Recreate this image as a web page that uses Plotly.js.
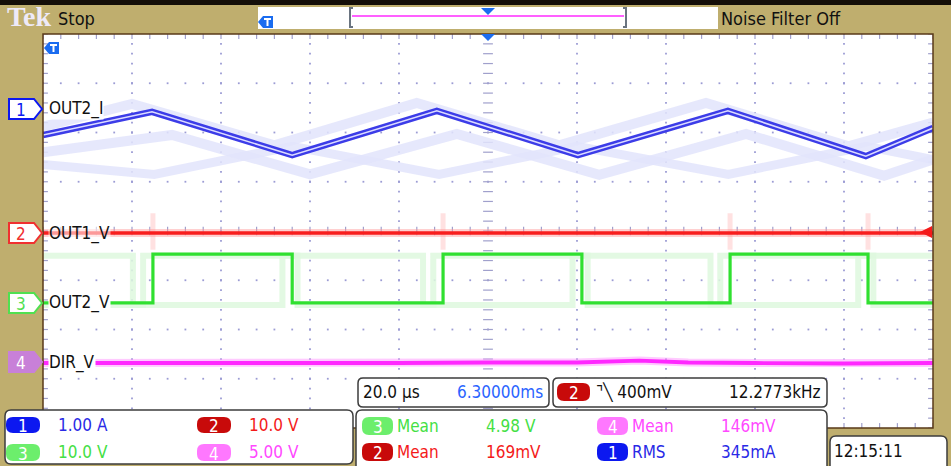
<!DOCTYPE html>
<html>
<head>
<meta charset="utf-8">
<script src="https://cdn.plot.ly/plotly-3.0.1.min.js"></script>
<style>html,body{margin:0;padding:0;background:#bfae6e;}#chart{width:951px;height:466px;}</style>
</head>
<body>
<div id="chart"></div>
<script>
// ---------- data (time in microseconds, amplitude in screen divisions) ----------
const timeTicks = [-100, -80, -60, -40, -20, 0, 20, 40, 60, 80, 100];

// CH1 OUT2_I (current, triangle) main trace vertices
const tOut2I = [-100, -75.5, -44.0, -11.5, 20.2, 53.9, 84.9, 100];
const vOut2I = [1.95, 2.42, 1.54, 2.44, 1.54, 2.44, 1.52, 2.09];
// persistence ghosts of CH1
const tOut2IGhostA = [-100, -80, -48, -16, 16, 49, 81, 100];
const vOut2IGhostA = [2.12, 2.58, 1.74, 2.6, 1.74, 2.6, 1.72, 2.2];
const tOut2IGhostB = [-100, -71, -40, -7, 25, 58, 89, 100];
const vOut2IGhostB = [1.6, 1.95, 1.15, 1.97, 1.14, 1.97, 1.12, 1.45];
const tOut2IGhostC = [-100, -75, -44, -11, 20, 54, 85, 100];
const vOut2IGhostC = [1.35, 1.15, 1.72, 1.15, 1.72, 1.15, 1.72, 1.45];

// CH2 OUT1_V
const tOut1V = [-100, -50, 0, 50, 100];
const vOut1V = [-0.04, -0.04, -0.05, -0.04, -0.04];
const tOut1VSpikes = [-75.3, -10.1, 54.4, 85.4];

// CH3 OUT2_V (square wave)
const tOut2V = [-100, -75.3, -44.0, -10.1, 21.1, 54.4, 85.4, 100];
const vOut2V = [-1.46, -0.47, -1.46, -0.47, -1.46, -0.47, -1.46, -1.46];
const tOut2VGhostA = [-100, -79.8, -46.2, -14.6, 19.0, 50.0, 83.2, 100];
const vOut2VGhostA = [-0.5, -1.5, -0.5, -1.5, -0.5, -1.5, -0.5, -0.5];
const tOut2VGhostB = [-100, -77.5, -42.8, -12.3, 22.4, 52.2, 86.6, 100];
const vOut2VGhostB = [-1.5, -0.5, -1.5, -0.5, -1.5, -0.5, -1.5, -1.5];

// CH4 DIR_V
const tDirV = [-100, -80, -60, -40, -20, 0, 20, 34, 45, 60, 80, 100];
const vDirV = [-2.68, -2.68, -2.69, -2.68, -2.68, -2.67, -2.67, -2.63, -2.67, -2.68, -2.69, -2.68];

// readouts
const traceLabels = ["OUT2_I", "OUT1_V", "OUT2_V", "DIR_V"];
const chanScales = ["1.00 A", "10.0 V", "10.0 V", "5.00 V"];
const measNames = ["Mean", "Mean", "Mean", "RMS"];
const measChans = ["3", "4", "2", "1"];
const measValues = ["4.98 V", "146mV", "169mV", "345mA"];
const timebase = "20.0 µs";
const delay = "6.30000ms";
const trigLevel = "400mV";
const trigFreq = "12.2773kHz";
const clock = "12:15:11";

// ---------- helpers ----------
const W = 951, H = 466;
const X = p => p / W;
const Y = p => 1 - p / H;
const FONT = "Liberation Sans Narrow, DejaVu Sans Condensed, Liberation Sans, sans-serif";
const C = {blue:'#2a2ae6', red:'#f41a1a', green:'#44e044', mag:'#ff48ff',
           pBlue:'#0c18f0', pRed:'#c80a0a', pGreen:'#6cee6c', pMag:'#ff78ff'};

function rrect(x0, y0, x1, y1, r) {
  return `M${X(x0+r)},${Y(y0)} L${X(x1-r)},${Y(y0)} Q${X(x1)},${Y(y0)} ${X(x1)},${Y(y0+r)} ` +
         `L${X(x1)},${Y(y1-r)} Q${X(x1)},${Y(y1)} ${X(x1-r)},${Y(y1)} L${X(x0+r)},${Y(y1)} ` +
         `Q${X(x0)},${Y(y1)} ${X(x0)},${Y(y1-r)} L${X(x0)},${Y(y0+r)} Q${X(x0)},${Y(y0)} ${X(x0+r)},${Y(y0)} Z`;
}
function poly(pts) {
  return 'M' + pts.map(p => `${X(p[0])},${Y(p[1])}`).join(' L') + ' Z';
}
const shapes = [];
const ann = [];
function box(x0, y0, x1, y1, r, fill, line, lw) {
  shapes.push({type:'path', xref:'paper', yref:'paper', path:rrect(x0,y0,x1,y1,r),
    fillcolor:fill, line:{color:line||'rgba(0,0,0,0)', width:lw||0}});
}
function rect(x0, y0, x1, y1, fill, line, lw) {
  shapes.push({type:'rect', xref:'paper', yref:'paper', x0:X(x0), x1:X(x1), y0:Y(y1), y1:Y(y0),
    fillcolor:fill, line:{color:line||'rgba(0,0,0,0)', width:lw||0}});
}
function txt(s, x, y, color, size, anchor, extra) {
  ann.push(Object.assign({text:s, xref:'paper', yref:'paper', x:X(x), y:Y(y),
    xanchor:anchor||'left', yanchor:'middle', showarrow:false, borderpad:0,
    font:{family:FONT, size:size||17, color:color}}, extra||{}));
}
function pill(x0, y0, x1, y1, fill, label) {
  box(x0, y0, x1, y1, 7, fill);
  txt(label, (x0+x1)/2, (y0+y1)/2 + 1, '#ffffff', 17, 'center');
}
function chanMarker(yc, color, fill, textColor, label) {
  shapes.push({type:'path', xref:'paper', yref:'paper',
    path: poly([[9, yc-10],[34, yc-10],[42, yc],[34, yc+10],[9, yc+10]]),
    fillcolor:fill, line:{color:color, width:2}});
  txt(label, 21, yc+1, textColor, 17, 'center');
}

// ---------- traces ----------
const traces = [];
const skip = {hoverinfo:'skip', showlegend:false};
function line(x, y, color, width, shape) {
  traces.push(Object.assign({type:'scatter', mode:'lines', x:x, y:y,
    line:{color:color, width:width, shape:shape||'linear'}}, skip));
}
// graticule dots
(function(){
  const gx = [], gy = [];
  for (let k = -4; k <= 4; k++) { if (k === 0) continue;
    for (let j = -20; j <= 20; j++) { gx.push(k*20); gy.push(j*0.2); } }
  for (let j = -3; j <= 3; j++) { if (j === 0) continue;
    for (let i = -25; i <= 25; i++) { gx.push(i*4); gy.push(j); } }
  traces.push(Object.assign({type:'scatter', mode:'markers', x:gx, y:gy,
    marker:{symbol:'square', size:1.8, color:'#9c9cd4', line:{width:0}}}, skip));
  // centre cross ticks
  const cx = [], cy = [], hx = [], hy = [];
  for (let j = -20; j <= 20; j++) { cx.push(0); cy.push(j*0.2); }
  for (let i = -25; i <= 25; i++) { hx.push(i*4); hy.push(0); }
  traces.push(Object.assign({type:'scatter', mode:'markers', x:cx, y:cy,
    marker:{symbol:'line-ew', size:7, line:{width:1.2, color:'#a0a0cc'}}}, skip));
  traces.push(Object.assign({type:'scatter', mode:'markers', x:hx, y:hy,
    marker:{symbol:'line-ns', size:6, line:{width:1.2, color:'#a0a0cc'}}}, skip));
  // border ticks
  const bx = [], by = [], sx = [], sy = [];
  for (let i = -25; i <= 25; i++) { bx.push(i*4, i*4); by.push(4, -4); }
  for (let j = -20; j <= 20; j++) { sx.push(-100, 100); sy.push(j*0.2, j*0.2); }
  traces.push(Object.assign({type:'scatter', mode:'markers', x:bx, y:by,
    marker:{symbol:'line-ns', size:7, line:{width:1.2, color:'#a0a0cc'}}}, skip));
  traces.push(Object.assign({type:'scatter', mode:'markers', x:sx, y:sy,
    marker:{symbol:'line-ew', size:7, line:{width:1.2, color:'#a0a0cc'}}}, skip));
})();

// ghosts
const gBlue = 'rgba(226,228,252,0.85)';
line(tOut2IGhostC, vOut2IGhostC, gBlue, 9);
line(tOut2IGhostB, vOut2IGhostB, gBlue, 10);
line(tOut2IGhostA, vOut2IGhostA, gBlue, 10);
const gGreen = 'rgba(222,248,222,0.85)';
line(tOut2VGhostA, vOut2VGhostA, gGreen, 6, 'hv');
line(tOut2VGhostB, vOut2VGhostB, gGreen, 6, 'hv');
// spikes on OUT1_V around switching edges
(function(){
  const sx = [], sy = [];
  tOut1VSpikes.forEach(t => { sx.push(t, t, null); sy.push(-0.38, 0.36, null); });
  line(sx, sy, 'rgba(255,205,205,0.6)', 5);
})();
// main traces
line(tOut2I, vOut2I, '#3c3ce8', 6.5);
line(tOut2I, vOut2I, '#dcdcff', 1.6);
line(tOut1V, vOut1V, 'rgba(255,150,150,0.45)', 8);
line(tOut1V, vOut1V, '#f81e1e', 3.5);
line(tOut2V, vOut2V, '#30e030', 3.2, 'hv');
line(tDirV, vDirV, 'rgba(255,150,255,0.5)', 8);
line(tDirV, vDirV, '#ff28ff', 3.8);

// ---------- frame ----------
rect(0, 0, W, 5, '#140e08');
// plot border
rect(43, 34, 933, 428, 'rgba(0,0,0,0)', '#5a3a18', 1.5);
// top record box
rect(258, 7, 718, 29, '#ffffff');
shapes.push({type:'path', xref:'paper', yref:'paper',
  path:`M${X(353)},${Y(8)} L${X(350)},${Y(8)} L${X(350)},${Y(27)} L${X(353)},${Y(27)}`,
  line:{color:'#6a7480', width:2}});
shapes.push({type:'path', xref:'paper', yref:'paper',
  path:`M${X(623)},${Y(8)} L${X(626)},${Y(8)} L${X(626)},${Y(27)} L${X(623)},${Y(27)}`,
  line:{color:'#6a7480', width:2}});
shapes.push({type:'line', xref:'paper', yref:'paper', x0:X(352), x1:X(624), y0:Y(16), y1:Y(16),
  line:{color:'#ff60ff', width:2}});
// trigger position arrows
shapes.push({type:'path', xref:'paper', yref:'paper', path:poly([[481,8],[495,8],[488,15]]),
  fillcolor:'#1a6cf0', line:{width:0}});
shapes.push({type:'path', xref:'paper', yref:'paper', path:poly([[481,34],[495,34],[488,41]]),
  fillcolor:'#1a6cf0', line:{width:0}});
// T pins
function tPin(x0, y0) {
  shapes.push({type:'path', xref:'paper', yref:'paper',
    path:poly([[x0, y0+6],[x0+5, y0],[x0+15, y0],[x0+15, y0+12],[x0+5, y0+12]]),
    fillcolor:'#1a6cf0', line:{width:0}});
  shapes.push({type:'line', xref:'paper', yref:'paper', x0:X(x0+6), x1:X(x0+13), y0:Y(y0+3), y1:Y(y0+3),
    line:{color:'#ffffff', width:2}});
  shapes.push({type:'line', xref:'paper', yref:'paper', x0:X(x0+9.5), x1:X(x0+9.5), y0:Y(y0+3), y1:Y(y0+10),
    line:{color:'#ffffff', width:2}});
}
tPin(258, 16);
tPin(44, 42);
// trigger level marker (right edge)
shapes.push({type:'path', xref:'paper', yref:'paper', path:poly([[920,232],[932,226],[932,238]]),
  fillcolor:'#f41a1a', line:{width:0}});

// channel markers
chanMarker(109, C.pBlue, '#ffffff', C.pBlue, '1');
chanMarker(233, '#f03030', '#ffffff', '#f03030', '2');
chanMarker(303, '#50e050', '#ffffff', '#50e050', '3');
chanMarker(362, '#c880d8', '#c880d8', '#ffffff', '4');

// trace labels
txt(traceLabels[0], 48, 109, '#111111', 17, 'left', {bgcolor:'#ffffff'});
txt(traceLabels[1], 48, 233, '#111111', 17, 'left', {bgcolor:'rgba(255,255,255,0.55)'});
txt(traceLabels[2], 48, 302, '#111111', 17, 'left', {bgcolor:'#ffffff'});
txt(traceLabels[3], 48, 362, '#111111', 17, 'left', {bgcolor:'#ffffff'});

// top texts
ann.push({text:'<b>Tek</b>', xref:'paper', yref:'paper', x:X(5), y:Y(17), xanchor:'left', yanchor:'middle',
  showarrow:false, font:{family:'Liberation Serif, serif', size:28, color:'#eeeaf8'}});
txt('Stop', 57, 18, '#111111', 18);
txt('Noise Filter Off', 720, 18, '#111111', 18);

// bottom: channel scale box
box(5, 410, 353, 464, 6, '#ffffff', '#3c3c3c', 1.5);
pill(6, 417, 40, 433, C.pBlue, '1');
txt(chanScales[0], 57, 425, C.blue);
pill(197, 417, 231, 433, C.pRed, '2');
txt(chanScales[1], 248, 425, C.red);
pill(6, 444, 40, 461, C.pGreen, '3');
txt(chanScales[2], 57, 452, C.green);
pill(197, 444, 231, 461, C.pMag, '4');
txt(chanScales[3], 248, 452, C.mag);

// horizontal / trigger boxes
box(358, 378, 549, 407, 5, '#ffffff', '#3c3c3c', 1.5);
txt(timebase, 362, 392, '#111111');
txt(delay, 544, 392, '#2a64ff', 17, 'right');
box(553, 378, 827, 407, 5, '#ffffff', '#3c3c3c', 1.5);
pill(557, 383, 590, 401, C.pRed, '2');
txt('⌝╲ ' + trigLevel, 595, 392, '#111111');
txt(trigFreq, 822, 392, '#111111', 17, 'right');

// measurement box
box(356, 410, 827, 476, 6, '#ffffff', '#3c3c3c', 1.5);
const mColorsPill = [C.pGreen, C.pMag, C.pRed, C.pBlue];
const mColorsTxt = [C.green, C.mag, C.red, C.blue];
const mPos = [[362, 426, 485], [597, 426, 720], [362, 452, 485], [597, 452, 720]];
for (let i = 0; i < 4; i++) {
  const [px, py, vx] = mPos[i];
  pill(px, py-9, px+31, py+9, mColorsPill[i], measChans[i]);
  txt(measNames[i], px+34, py, mColorsTxt[i]);
  txt(measValues[i], vx, py, mColorsTxt[i]);
}
// clock
box(830, 436, 947, 476, 6, '#ffffff', '#3c3c3c', 1.5);
txt(clock, 833, 451, '#111111');

const layout = {
  width: W, height: H,
  margin: {l:0, r:0, t:0, b:0},
  paper_bgcolor: '#bfae6e',
  plot_bgcolor: '#ffffff',
  showlegend: false,
  xaxis: {domain:[X(43), X(933)], range:[-100, 100], tickvals: timeTicks, showticklabels:false,
          showgrid:false, zeroline:false, showline:false, ticks:'', fixedrange:true},
  yaxis: {domain:[Y(428), Y(34)], range:[-4, 4], showticklabels:false, showgrid:false,
          zeroline:false, showline:false, ticks:'', fixedrange:true},
  shapes: shapes,
  annotations: ann
};
Plotly.newPlot('chart', traces, layout, {staticPlot:true, displayModeBar:false});
</script>
</body>
</html>
